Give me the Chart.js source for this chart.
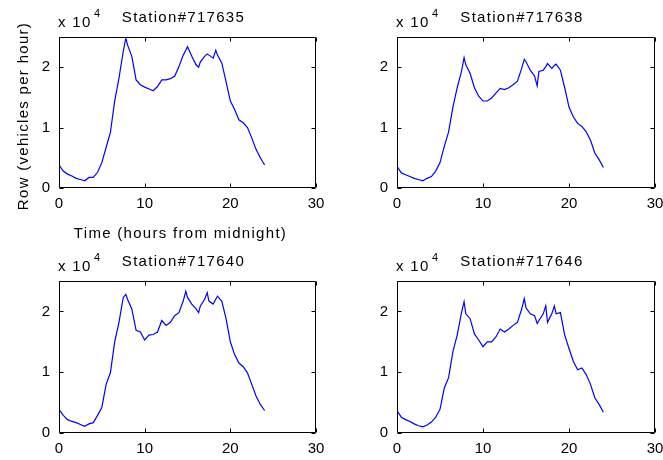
<!DOCTYPE html>
<html>
<head>
<meta charset="utf-8">
<script src="https://cdn.jsdelivr.net/npm/chart.js@4.4.0/dist/chart.umd.min.js"></script>
<style>
  html, body { margin: 0; padding: 0; background: #fff; }
  #page { position: relative; width: 663px; height: 460px; overflow: hidden; background: #fff; }
  canvas.layer { position: absolute; left: 0; top: 0; }
  .txt {
    position: absolute;
    font-family: "Liberation Sans", Arial, sans-serif;
    font-size: 15px;
    letter-spacing: 1.3px;
    line-height: 1;
    color: #000;
    white-space: nowrap;
  }
</style>
</head>
<body>
<div id="page"></div>
<script>
// time of day (hours from midnight)
const hours = [0, 0.5, 1, 1.5, 2, 2.5, 3, 3.5, 4, 4.5, 5, 5.5, 6, 6.5, 7, 7.5, 7.8, 8, 8.5, 9,
  9.5, 10, 10.5, 11, 11.5, 12, 12.5, 13, 13.5, 14, 14.5, 14.8, 15, 15.5, 16, 16.3, 16.5, 17,
  17.3, 17.5, 18, 18.3, 18.5, 19, 19.5, 20, 20.5, 21, 21.5, 22, 22.5, 23, 23.5, 24];

// flow, vehicles per hour
const flow717635 = [3800, 2800, 2300, 2000, 1600, 1400, 1200, 1750, 1750, 2600, 4200, 6700, 9200,
  14400, 18200, 22600, 24800, 23700, 21800, 17900, 17100, 16700, 16400, 16100, 16800, 17900,
  17900, 18100, 18500, 20100, 22000, 22800, 23400, 21800, 20400, 20000, 20900, 21800, 22200,
  22000, 21500, 22800, 22000, 20700, 17600, 14400, 13000, 11300, 10800, 10000, 8300, 6400,
  5000, 3800];
const flow717638 = [3600, 2500, 2200, 1900, 1600, 1400, 1200, 1600, 1900, 2800, 4200, 6900, 9300,
  13400, 16600, 19300, 21600, 20400, 19000, 16600, 15200, 14400, 14400, 14900, 15700, 16500,
  16300, 16600, 17100, 17700, 19800, 21300, 20900, 19500, 18500, 16900, 19300, 19500, 20100,
  20600, 19800, 20300, 20500, 19500, 16600, 13400, 11800, 10700, 10200, 9300, 7900, 5800,
  4700, 3400];
const flow717640 = [3900, 2900, 2200, 1900, 1700, 1400, 1100, 1500, 1700, 2900, 4200, 8000, 9900,
  15000, 18200, 22300, 22800, 22000, 20400, 16900, 16600, 15300, 16100, 16200, 16600, 18500,
  17700, 18200, 19300, 19800, 21700, 23300, 22300, 21200, 20400, 19800, 20900, 22000, 23100,
  21700, 21200, 22000, 22500, 21700, 18800, 15000, 12900, 11500, 10900, 9900, 8000, 6100,
  4700, 3700];
const flow717646 = [3700, 2600, 2200, 1900, 1500, 1200, 1000, 1300, 1800, 2600, 3900, 7400, 9100,
  13400, 16100, 19800, 21600, 19600, 18800, 16300, 15300, 14200, 15000, 15000, 15800, 17100,
  16600, 17100, 17700, 18200, 20400, 22100, 20600, 19600, 19300, 18000, 18500, 19600, 20900,
  18200, 19600, 20900, 19600, 19800, 16100, 13900, 11800, 10400, 10700, 9600, 8000, 5800,
  4700, 3400];

const stationNames = ['Station#717635', 'Station#717638', 'Station#717640', 'Station#717646'];
const xTicks = [0, 10, 20, 30];
const yTicks = [0, 10000, 20000];
const xMax = 30;
const yMax = 25000;
const yScaleDiv = 10000;

// axes boxes on the page: [left, top, right, bottom]
const panels = [
  { name: stationNames[0], values: flow717635, box: [59, 37, 316, 188], labels: true },
  { name: stationNames[1], values: flow717638, box: [397, 37, 655, 188], labels: false },
  { name: stationNames[2], values: flow717640, box: [59, 281, 316, 433], labels: false },
  { name: stationNames[3], values: flow717646, box: [397, 281, 655, 433], labels: false }
];

const W = 663, H = 460;
const yAxisW = 40, xAxisH = 30;
const fontFamily = '"Liberation Sans", Arial, sans-serif';

// matlab style frame with inward ticks on all sides
const frameTicks = {
  id: 'frameTicks',
  afterDatasetsDraw(chart) {
    const { ctx, chartArea: a, scales } = chart;
    const l = Math.round(a.left) + 0.5, r = Math.round(a.right) - 0.5;
    const t = Math.round(a.top) + 0.5, b = Math.round(a.bottom) - 0.5;
    const len = 4;
    ctx.save();
    ctx.strokeStyle = '#000';
    ctx.lineWidth = 1;
    ctx.beginPath();
    ctx.rect(l, t, r - l, b - t);
    xTicks.forEach(v => {
      const px = Math.round(scales.x.getPixelForValue(v)) + 0.5;
      ctx.moveTo(px, b); ctx.lineTo(px, b - len);
      ctx.moveTo(px, t); ctx.lineTo(px, t + len);
    });
    yTicks.forEach(v => {
      const py = Math.round(scales.y.getPixelForValue(v)) + 0.5;
      ctx.moveTo(l, py); ctx.lineTo(l + len, py);
      ctx.moveTo(r, py); ctx.lineTo(r - len, py);
    });
    ctx.stroke();
    ctx.restore();
  }
};

function addText(html, x, y, opts) {
  const div = document.createElement('div');
  div.className = 'txt';
  div.innerHTML = html;
  div.style.left = x + 'px';
  div.style.top = y + 'px';
  if (opts && opts.size) div.style.fontSize = opts.size + 'px';
  div.style.transform = (opts && opts.transform) || 'translate(-50%, -50%)';
  document.getElementById('page').appendChild(div);
}

function makePanel(p) {
  const [left, top, right, bottom] = p.box;
  const canvas = document.createElement('canvas');
  canvas.className = 'layer';
  canvas.width = W;
  canvas.height = H;
  document.getElementById('page').appendChild(canvas);

  new Chart(canvas.getContext('2d'), {
    type: 'line',
    data: {
      datasets: [{
        data: hours.map((h, i) => ({ x: h, y: p.values[i] })),
        borderColor: '#0000ff',
        borderWidth: 1.2,
        pointRadius: 0,
        tension: 0,
        fill: false
      }]
    },
    options: {
      responsive: false,
      animation: false,
      events: [],
      layout: {
        padding: { left: left - yAxisW, top: top, right: W - right, bottom: H - bottom - xAxisH }
      },
      plugins: { legend: { display: false }, tooltip: { enabled: false } },
      scales: {
        x: {
          type: 'linear', min: 0, max: xMax,
          grid: { display: false, drawTicks: false },
          border: { display: false },
          afterBuildTicks: s => { s.ticks = xTicks.map(v => ({ value: v })); },
          afterFit: s => { s.height = xAxisH; s.paddingLeft = 0; s.paddingRight = 0; },
          ticks: { color: '#000', font: { family: fontFamily, size: 15 }, padding: 7, maxRotation: 0, autoSkip: false }
        },
        y: {
          type: 'linear', min: 0, max: yMax,
          grid: { display: false, drawTicks: false },
          border: { display: false },
          afterBuildTicks: s => { s.ticks = yTicks.map(v => ({ value: v })); },
          afterFit: s => { s.width = yAxisW; s.paddingTop = 0; s.paddingBottom = 0; },
          ticks: {
            color: '#000', font: { family: fontFamily, size: 15 }, padding: 9, autoSkip: false,
            callback: v => String(v / yScaleDiv)
          }
        }
      }
    },
    plugins: [frameTicks]
  });

  // title and exponent label
  addText(p.name, (left + right) / 2 - 4, top - 21);
  addText('x 10', left - 1, top - 16, { transform: 'translate(0, -50%)' });
  addText('4', left + 35, top - 24, { size: 11, transform: 'translate(0, -50%)' });

  if (p.labels) {
    addText('Time (hours from midnight)', (left + right) / 2 - 7, bottom + 44);
    addText('Row (vehicles per hour)', 22, (top + bottom) / 2 + 3, { transform: 'translate(-50%, -50%) rotate(-90deg)' });
  }
}

panels.forEach(makePanel);
</script>
</body>
</html>
